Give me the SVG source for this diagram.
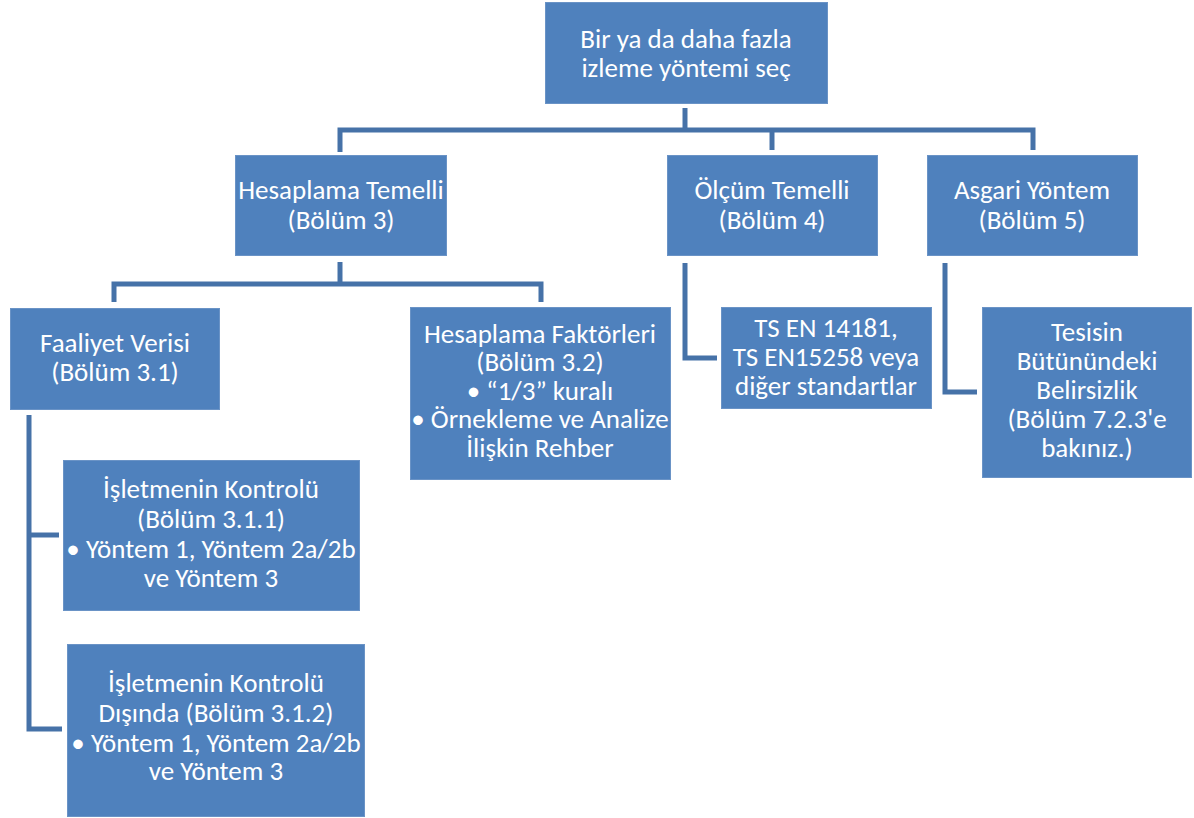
<svg xmlns="http://www.w3.org/2000/svg" width="1194" height="818" viewBox="0 0 1194 818">
  <style>
    .box { fill: #4F81BD; stroke: #6A93C6; stroke-width: 1; }
    .lbl { font-family: Carlito, Calibri, "Open Sans", Lato, sans-serif; font-size: 27px; fill: #FFFFFF; text-anchor: middle; }
    .conn { fill: none; stroke: #4672A8; stroke-width: 5; stroke-linejoin: miter; stroke-linecap: butt; }
  </style>
  <rect width="1194" height="818" fill="#FFFFFF"/>

  <!-- connectors -->
  <g id="connectors">
    <path class="conn" d="M685,108 V130"/>
    <path class="conn" d="M340,152 V130 H1033 V150"/>
    <path class="conn" d="M772,130 V150"/>
    <path class="conn" d="M340,262 V284"/>
    <path class="conn" d="M114,302 V284 H541 V302"/>
    <path class="conn" d="M685,263 V358 H717"/>
    <path class="conn" d="M945,263 V392 H977"/>
    <path class="conn" d="M29,415 V729 H62"/>
    <path class="conn" d="M29,535 H59"/>
  </g>

  <g id="root">
    <rect class="box" x="545.5" y="2.5" width="282" height="101"/>
    <text class="lbl" x="686" y="48">Bir ya da daha fazla</text>
    <text class="lbl" x="686" y="77">izleme yöntemi seç</text>
  </g>

  <g id="hesaplama-temelli">
    <rect class="box" x="235.5" y="155.5" width="211" height="100"/>
    <text class="lbl" x="341" y="199">Hesaplama Temelli</text>
    <text class="lbl" x="341" y="229">(Bölüm 3)</text>
  </g>

  <g id="olcum-temelli">
    <rect class="box" x="667.5" y="155.5" width="210" height="100"/>
    <text class="lbl" x="772" y="199">Ölçüm Temelli</text>
    <text class="lbl" x="772" y="229">(Bölüm 4)</text>
  </g>

  <g id="asgari-yontem">
    <rect class="box" x="927.5" y="155.5" width="210" height="100"/>
    <text class="lbl" x="1032" y="199">Asgari Yöntem</text>
    <text class="lbl" x="1032" y="229">(Bölüm 5)</text>
  </g>

  <g id="faaliyet-verisi">
    <rect class="box" x="10.5" y="308.5" width="209" height="101"/>
    <text class="lbl" x="115" y="352">Faaliyet Verisi</text>
    <text class="lbl" x="115" y="381">(Bölüm 3.1)</text>
  </g>

  <g id="hesaplama-faktorleri">
    <rect class="box" x="410.5" y="307.5" width="260" height="172"/>
    <text class="lbl" x="540" y="343">Hesaplama Faktörleri</text>
    <text class="lbl" x="540" y="371">(Bölüm 3.2)</text>
    <text class="lbl" x="540" y="400">• “1/3” kuralı</text>
    <text class="lbl" x="540" y="428">• Örnekleme ve Analize</text>
    <text class="lbl" x="540" y="457">İlişkin Rehber</text>
  </g>

  <g id="standartlar">
    <rect class="box" x="721.5" y="307.5" width="210" height="101"/>
    <text class="lbl" x="826" y="337">TS EN 14181,</text>
    <text class="lbl" x="826" y="366">TS EN15258 veya</text>
    <text class="lbl" x="826" y="395">diğer standartlar</text>
  </g>

  <g id="belirsizlik">
    <rect class="box" x="982.5" y="307.5" width="209" height="170"/>
    <text class="lbl" x="1087" y="341">Tesisin</text>
    <text class="lbl" x="1087" y="370">Bütünündeki</text>
    <text class="lbl" x="1087" y="399">Belirsizlik</text>
    <text class="lbl" x="1087" y="428">(Bölüm 7.2.3'e</text>
    <text class="lbl" x="1087" y="457">bakınız.)</text>
  </g>

  <g id="isletme-kontrolu">
    <rect class="box" x="63.5" y="460.5" width="296" height="150"/>
    <text class="lbl" x="211" y="498">İşletmenin Kontrolü</text>
    <text class="lbl" x="211" y="528">(Bölüm 3.1.1)</text>
    <text class="lbl" x="211" y="558">• Yöntem 1, Yöntem 2a/2b</text>
    <text class="lbl" x="211" y="587">ve Yöntem 3</text>
  </g>

  <g id="isletme-kontrolu-disinda">
    <rect class="box" x="67.5" y="644.5" width="297" height="172"/>
    <text class="lbl" x="216" y="692">İşletmenin Kontrolü</text>
    <text class="lbl" x="216" y="722">Dışında (Bölüm 3.1.2)</text>
    <text class="lbl" x="216" y="752">• Yöntem 1, Yöntem 2a/2b</text>
    <text class="lbl" x="216" y="780">ve Yöntem 3</text>
  </g>
</svg>
